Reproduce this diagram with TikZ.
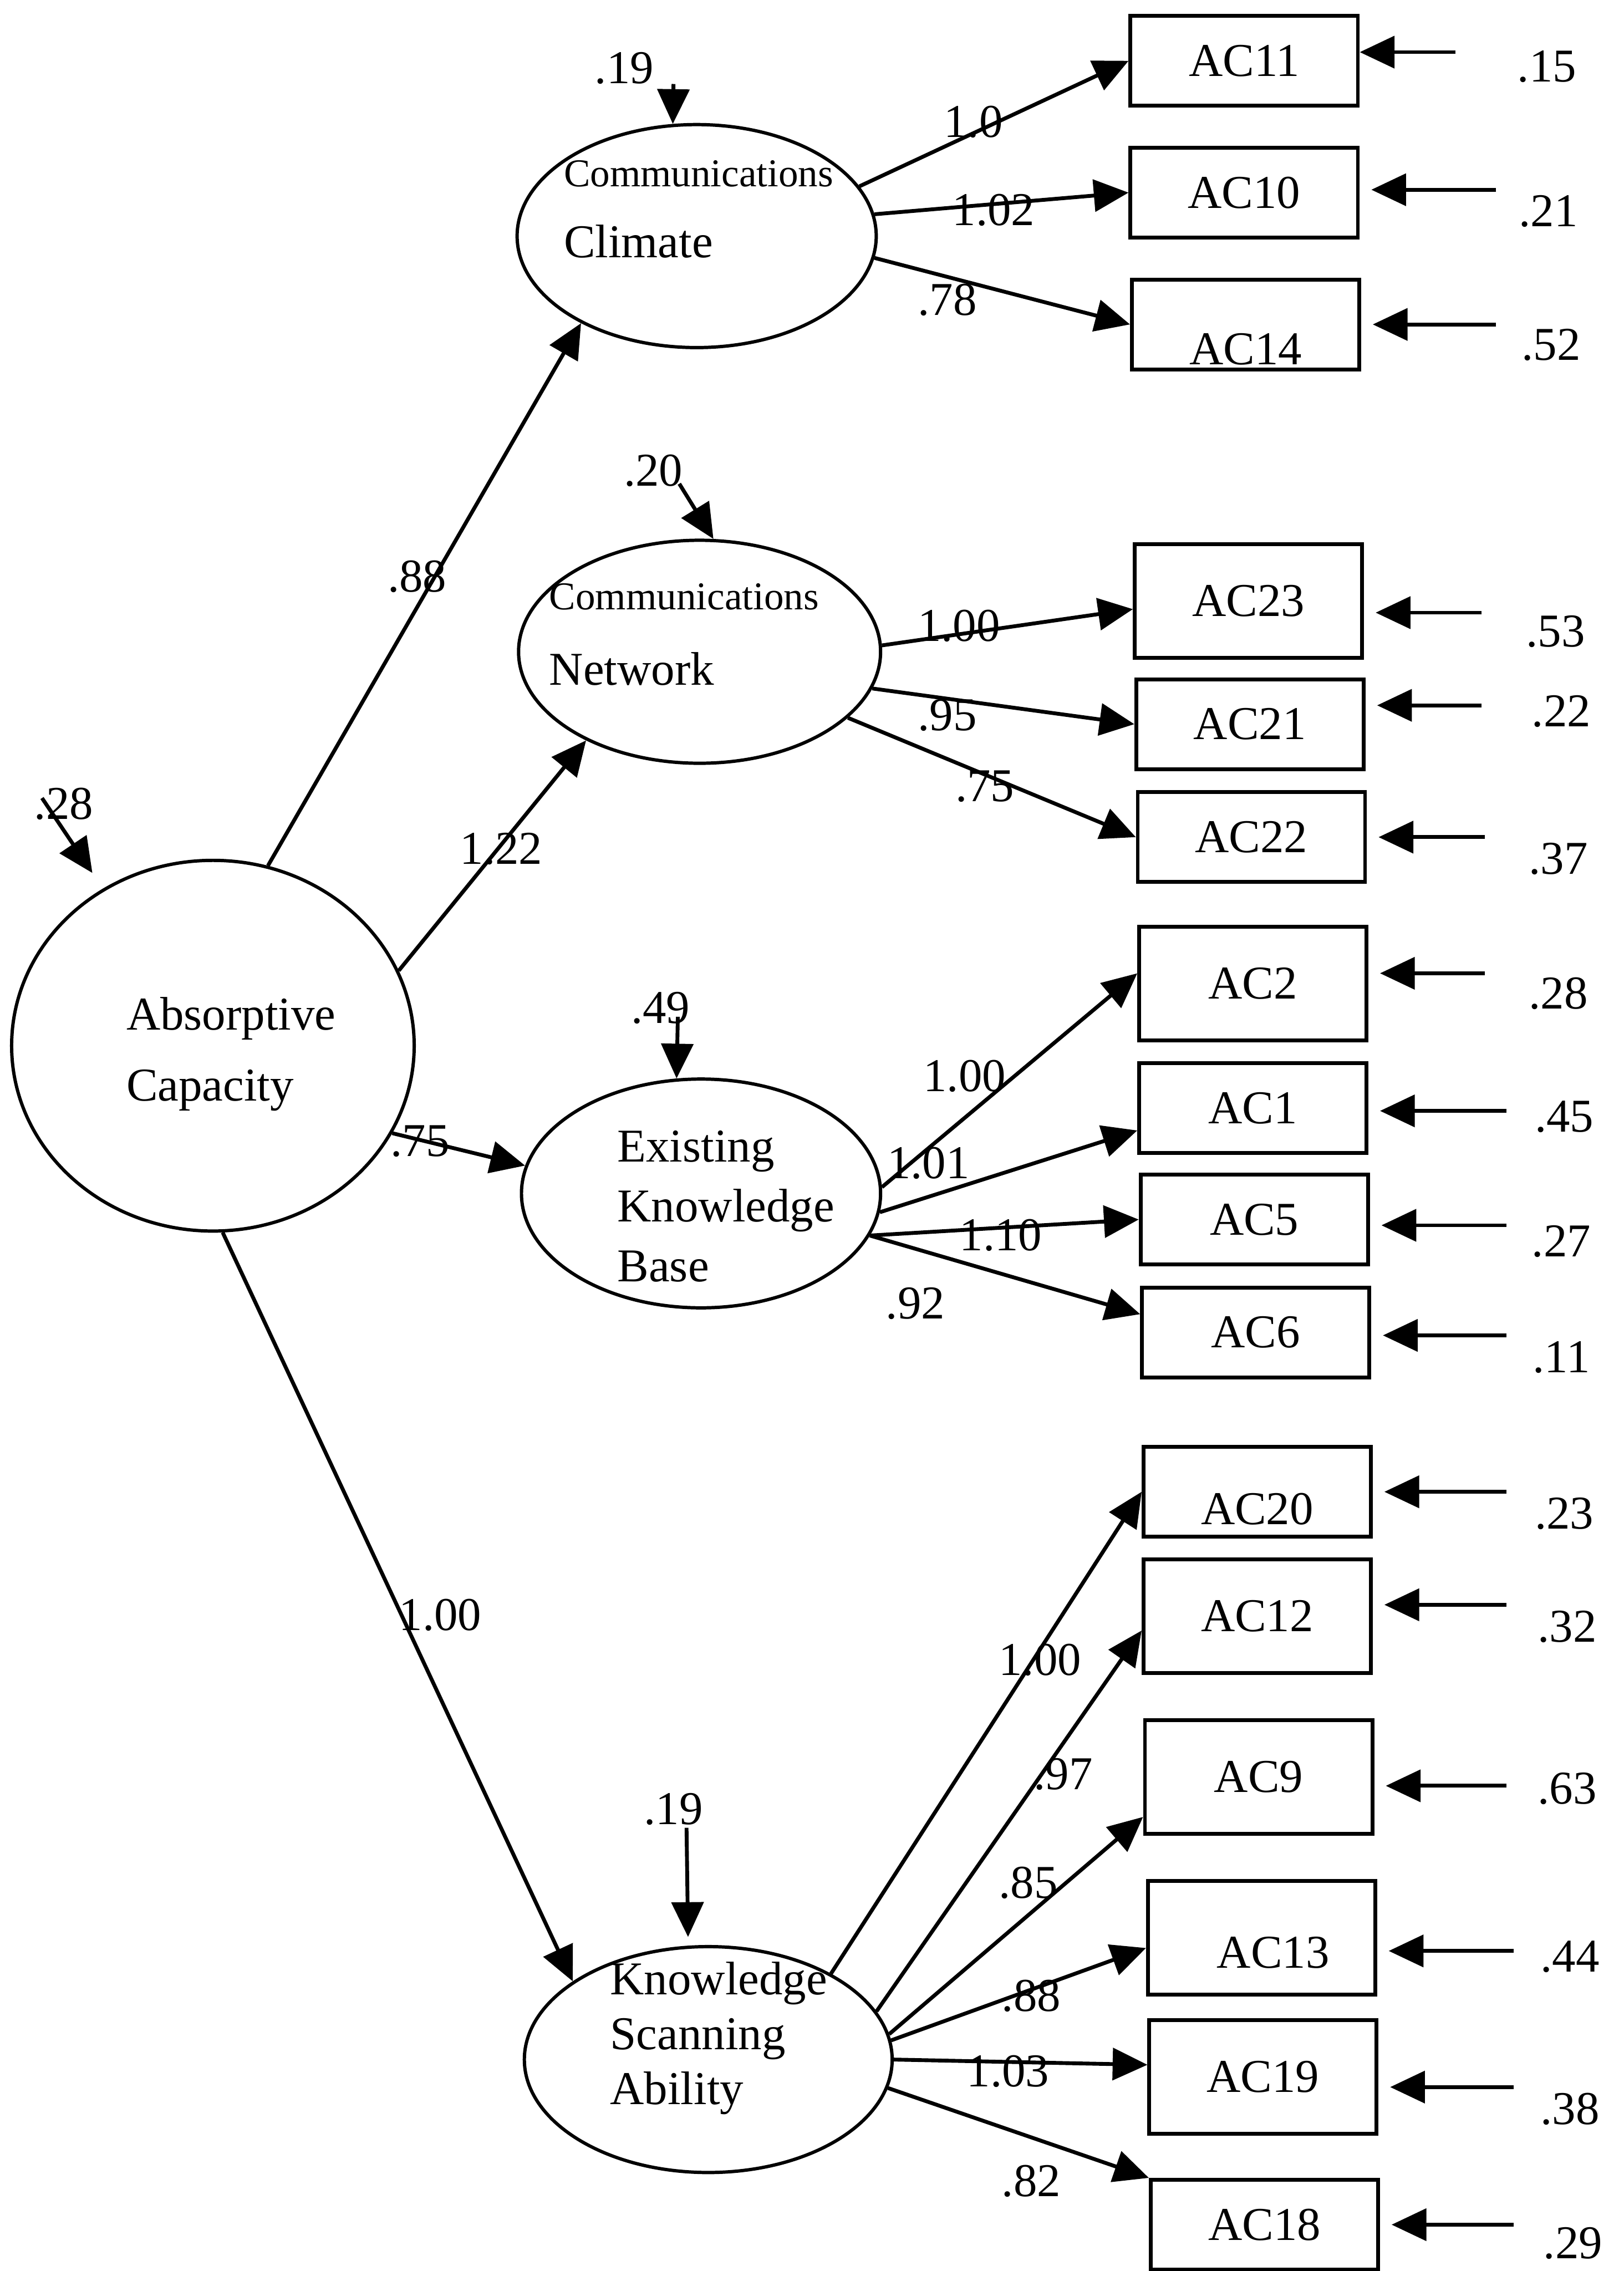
\documentclass[tikz,border=0pt]{standalone}
\usepackage{fontspec}
\setmainfont{Liberation Serif}
\usetikzlibrary{arrows.meta,shapes.geometric}

\begin{document}
\begin{tikzpicture}[->, >={Triangle[length=0.48cm,width=0.44cm]}, x=0.02cm, y=-0.02cm,
    line width=1.5pt, font=\fontsize{18.5}{22}\selectfont]
  \tikzstyle{latent}=[draw, ellipse, inner sep=0pt, line width=1.3pt]
  \tikzstyle{obs}=[draw, rectangle, minimum width=3.14cm, minimum height=1.24cm, inner sep=0pt]
  \tikzstyle{tall}=[minimum height=1.57cm]
  \tikzstyle{txt}=[inner sep=0pt, align=left, anchor=base west]
  \tikzstyle{num}=[inner sep=0pt]
  \tikzstyle{err}=[shorten >=0.16cm]

  \useasboundingbox (0,0) rectangle (1121,1568);

  % latent variables
  \node[latent, minimum width=5.56cm, minimum height=5.12cm] (absorp)   at (147,722)  {};
  \node[latent, minimum width=4.96cm, minimum height=3.08cm] (climate)  at (481,163)  {};
  \node[latent, minimum width=5.00cm, minimum height=3.08cm] (network)  at (483,450)  {};
  \node[latent, minimum width=4.96cm, minimum height=3.16cm] (existing) at (484,824)  {};
  \node[latent, minimum width=5.08cm, minimum height=3.12cm] (scanning) at (489,1422) {};

  % (base = baseline of the last line)
  \node[txt, font=\fontsize{18.5}{27.8}\selectfont] (absorpT) at (86,760) {Absorptive\\Capacity};
  \node[txt, font=\fontsize{15.5}{18}\selectfont] (climateA) at (388,129) {Communications};
  \node[txt] (climateB) at (388,178) {Climate};
  \node[txt, font=\fontsize{15.5}{18}\selectfont] (networkA) at (378,421) {Communications};
  \node[txt] (networkB) at (378,473) {Network};
  \node[txt, font=\fontsize{18.5}{23.6}\selectfont] (existingT) at (425,885) {Existing\\Knowledge\\Base};
  \node[txt, font=\fontsize{18.5}{21.6}\selectfont] (scanningT) at (420,1453) {Knowledge\\Scanning\\Ability};

  % indicators
  \node[obs]       (ac11) at (859,42)   {AC11\hspace{0.72cm}};
  \node[obs]       (ac10) at (859,133)  {AC10};
  \node[obs]       (ac14) at (860,224)  {\raisebox{-0.34cm}[\height][\depth]{AC14}};
  \node[obs, tall] (ac23) at (862,415)  {AC23\hspace{0.68cm}};
  \node[obs]       (ac21) at (863,500)  {AC21};
  \node[obs]       (ac22) at (864,578)  {AC22\hspace{0.44cm}};
  \node[obs, tall] (ac2)  at (865,679)  {AC2\hspace{0.36cm}};
  \node[obs]       (ac1)  at (865,765)  {AC1\hspace{0.36cm}};
  \node[obs]       (ac5)  at (866,842)  {AC5};
  \node[obs]       (ac6)  at (867,920)  {AC6};
  \node[obs]       (ac20) at (868,1030) {\raisebox{-0.24cm}[\height][\depth]{AC20}};
  \node[obs, tall] (ac12) at (868,1116) {AC12};
  \node[obs, tall] (ac9)  at (869,1227) {AC9\hspace{0.36cm}};
  \node[obs, tall] (ac13) at (871,1338) {\hspace{0.32cm}\raisebox{-0.2cm}[\height][\depth]{AC13}};
  \node[obs, tall] (ac19) at (872,1434) {AC19};
  \node[obs]       (ac18) at (873,1536) {AC18};

  % structural paths
  \path
    (absorp.73)  edge (climate.217)
    (absorp.22)  edge (network.218)
    (absorp.-26) edge (existing.171)
    (absorp.273) edge (scanning.150);

  \node[num] (s88)  at (288,398)  {.88};
  \node[num] (s122) at (346,586)  {1.22};
  \node[num] (s75)  at (290,788)  {.75};
  \node[num] (s100) at (304,1115) {1.00};

  % loadings
  \path
    (climate.17)    edge (ac11.west)
    (climate.7)     edge (ac10.west)
    (climate.-7)    edge (ac14.west)
    (network.2)     edge (ac23.184)
    (network.-12)   edge (ac21.west)
    (network.-24)   edge (ac22.west)
    (existing.2)    edge (ac2.175)
    (existing.-6)   edge (ac1.191)
    (existing.-14)  edge (ac5.west)
    (existing.-14)  edge (ac6.171)
    (scanning.35)   edge (ac20.west)
    (scanning.16)   edge (ac12.187)
    (scanning.8)    edge (ac9.199)
    (scanning.6)    edge (ac13.185)
    (scanning.0)    edge (ac19.174)
    (scanning.-9)   edge (ac18.north west);

  \node[num] (w11) at (672,84)   {1.0};
  \node[num] (w10) at (686,145)  {1.02};
  \node[num] (w14) at (654,207)  {.78};
  \node[num] (w23) at (662,432)  {1.00};
  \node[num] (w21) at (654,494)  {.95};
  \node[num] (w22) at (680,543)  {.75};
  \node[num] (w2)  at (666,743)  {1.00};
  \node[num] (w1)  at (641,803)  {1.01};
  \node[num] (w5)  at (691,853)  {1.10};
  \node[num] (w6)  at (632,900)  {.92};
  \node[num] (w20) at (718,1146) {1.00};
  \node[num] (w12) at (734,1225) {.97};
  \node[num] (w9)  at (710,1300) {.85};
  \node[num] (w13) at (712,1378) {.88};
  \node[num] (w19) at (696,1430) {1.03};
  \node[num] (w18) at (712,1506) {.82};

  % disturbances
  \coordinate (dabsorp)   at (29,551);
  \coordinate (dclimate)  at (465,58);
  \coordinate (dnetwork)  at (469,334);
  \coordinate (dexisting) at (468,702);
  \coordinate (dscanning) at (474,1262);
  \draw[shorten >=0.26cm] (dabsorp) -- (absorp.125);
  \draw (dclimate)  -- (climate.102);
  \draw (dnetwork)  -- (network.83);
  \draw (dexisting) -- (existing.102);
  \draw[shorten >=0.12cm] (dscanning) -- (scanning.100);

  \node[num] (zabsorp)   at (44,555)   {.28};
  \node[num] (zclimate)  at (431,47)   {.19};
  \node[num] (znetwork)  at (451,325)  {.20};
  \node[num] (zexisting) at (456,696)  {.49};
  \node[num] (zscanning) at (465,1249) {.19};

  % measurement errors
  \coordinate (e11) at (1005,36);
  \coordinate (e10) at (1033,131);
  \coordinate (e14) at (1033,224);
  \coordinate (e23) at (1023,423);
  \coordinate (e21) at (1023,487);
  \coordinate (e22) at (1025,578);
  \coordinate (e2)  at (1025,672);
  \coordinate (e1)  at (1040,767);
  \coordinate (e5)  at (1040,846);
  \coordinate (e6)  at (1040,922);
  \coordinate (e20) at (1040,1030);
  \coordinate (e12) at (1040,1108);
  \coordinate (e9)  at (1040,1233);
  \coordinate (e13) at (1045,1347);
  \coordinate (e19) at (1045,1441);
  \coordinate (e18) at (1045,1536);

  \draw (e11) -- (e11 -| ac11.east);
  \draw[err] (e10) -- (e10 -| ac10.east);
  \draw[err] (e14) -- (e14 -| ac14.east);
  \draw[err] (e23) -- (e23 -| ac23.east);
  \draw[err] (e21) -- (e21 -| ac21.east);
  \draw[err] (e22) -- (e22 -| ac22.east);
  \draw[err] (e2)  -- (e2 -| ac2.east);
  \draw[err] (e1)  -- (e1 -| ac1.east);
  \draw[err] (e5)  -- (e5 -| ac5.east);
  \draw[err] (e6)  -- (e6 -| ac6.east);
  \draw[err] (e20) -- (e20 -| ac20.east);
  \draw[err] (e12) -- (e12 -| ac12.east);
  \draw[err] (e9)  -- (e9 -| ac9.east);
  \draw[err] (e13) -- (e13 -| ac13.east);
  \draw[err] (e19) -- (e19 -| ac19.east);
  \draw[err] (e18) -- (e18 -| ac18.east);

  \node[num] (v11) at (1068,46)   {.15};
  \node[num] (v10) at (1069,146)  {.21};
  \node[num] (v14) at (1071,238)  {.52};
  \node[num] (v23) at (1074,436)  {.53};
  \node[num] (v21) at (1078,491)  {.22};
  \node[num] (v22) at (1076,593)  {.37};
  \node[num] (v2)  at (1076,686)  {.28};
  \node[num] (v1)  at (1080,771)  {.45};
  \node[num] (v5)  at (1078,857)  {.27};
  \node[num] (v6)  at (1078,937)  {.11};
  \node[num] (v20) at (1080,1045) {.23};
  \node[num] (v12) at (1082,1123) {.32};
  \node[num] (v9)  at (1082,1235) {.63};
  \node[num] (v13) at (1084,1351) {.44};
  \node[num] (v19) at (1084,1456) {.38};
  \node[num] (v18) at (1086,1549) {.29};

\end{tikzpicture}
\end{document}
